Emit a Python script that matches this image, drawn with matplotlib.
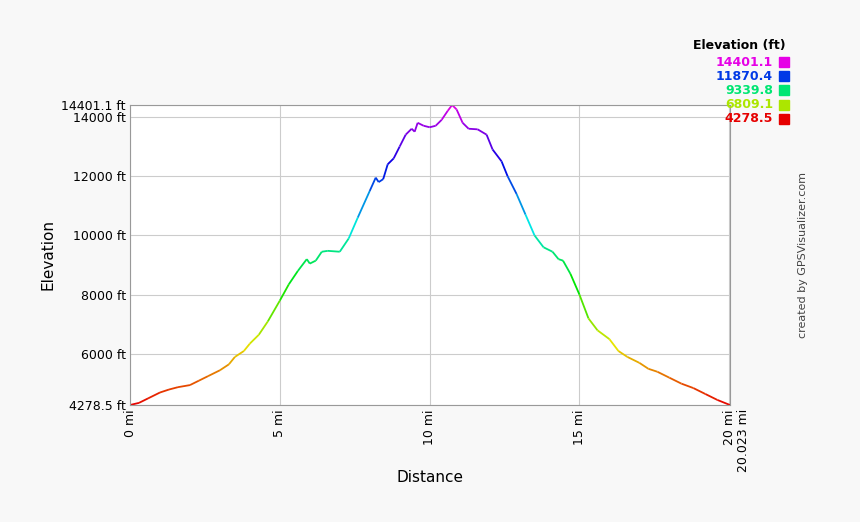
import matplotlib
matplotlib.use("Agg")
import matplotlib.pyplot as plt
import numpy as np
from matplotlib.collections import LineCollection
import colorsys

dist = [0,0.3,0.6,1,1.3,1.6,2,2.3,2.6,3,3.3,3.5,3.8,4,4.3,4.6,5,5.3,5.6,5.9,6.0,6.2,6.4,6.6,7,7.3,7.6,8,8.2,8.3,8.45,8.6,8.8,9,9.2,9.4,9.5,9.6,9.8,10,10.2,10.4,10.6,10.75,10.9,11.1,11.3,11.6,11.9,12.1,12.4,12.6,12.9,13.2,13.5,13.8,14.1,14.3,14.45,14.7,15,15.3,15.6,16,16.3,16.6,17,17.3,17.6,18,18.4,18.8,19.2,19.6,20.023]
elev = [4278,4350,4500,4700,4800,4880,4950,5100,5250,5450,5650,5900,6100,6350,6650,7100,7800,8350,8800,9200,9050,9150,9450,9480,9450,9900,10600,11500,11950,11800,11900,12400,12600,13000,13400,13600,13500,13800,13700,13650,13700,13900,14200,14401,14250,13800,13600,13580,13400,12900,12500,12000,11400,10700,10000,9600,9450,9200,9150,8700,8000,7200,6800,6500,6100,5900,5700,5500,5400,5200,5000,4850,4650,4450,4278]
emin, emax = 4278.5, 14401.1
legend_vals = [14401.1, 11870.4, 9339.8, 6809.1, 4278.5]
xticks = [0,5,10,15,20]
xticklabels = ["0 mi","5 mi","10 mi","15 mi","20 mi"]
xend_label = "20.023 mi"

def col(e):
    f = min(max((e-emin)/(emax-emin),0),1)
    return colorsys.hsv_to_rgb(f*300/360, 1, 0.9)

fig = plt.figure(figsize=(8.6,5.22), dpi=100, facecolor='#f8f8f8')
ax = fig.add_axes([130/860, 1-405/522, 600/860, 300/522])
ax.set_facecolor('white')
x = np.array(dist); y = np.array(elev)
segs = np.stack([np.column_stack([x[:-1],y[:-1]]), np.column_stack([x[1:],y[1:]])], axis=1)
lc = LineCollection(segs, colors=[col((a+b)/2) for a,b in zip(y[:-1],y[1:])], linewidths=1.3)
ax.add_collection(lc)
ax.set_xlim(0,dist[-1]); ax.set_ylim(emin,emax)
yt = [emin,6000,8000,10000,12000,14000,emax]
ax.set_yticks(yt); ax.set_yticklabels(["4278.5 ft","6000 ft","8000 ft","10000 ft","12000 ft","14000 ft","14401.1 ft"], fontsize=9)
ax.set_xticks(xticks); ax.set_xticklabels(xticklabels, rotation=90, fontsize=9)
ax.annotate(xend_label, xy=(dist[-1], 0), xycoords=('data','axes fraction'),
            xytext=(10, -3), textcoords='offset points', rotation=90, fontsize=9,
            ha='center', va='top')
ax.grid(True, color='#cccccc', lw=0.8)
for s in ax.spines.values(): s.set_color('#999999')
ax.tick_params(length=0, pad=3)
ax.set_ylabel("Elevation", fontsize=11)
fig.text(430/860, 1-477/522, "Distance", fontsize=11, ha='center', va='center')
fig.text(803/860, 1-255/522, "created by GPSVisualizer.com", rotation=90, fontsize=8, color='#444444', ha='center', va='center')
fig.text(786/860, 1-46/522, "Elevation (ft)", fontsize=9, fontweight='bold', ha='right', va='center')
for i,v in enumerate(legend_vals):
    yy = 1-(62+i*14.2)/522
    fig.text(773/860, yy, f"{v}", fontsize=9, fontweight='bold', color=col(v), ha='right', va='center')
    fig.patches.append(plt.Rectangle((779/860, yy-5/522), 10/860, 10/522, transform=fig.transFigure, color=col(v)))
fig.savefig("out.png", dpi=100, facecolor=fig.get_facecolor())
